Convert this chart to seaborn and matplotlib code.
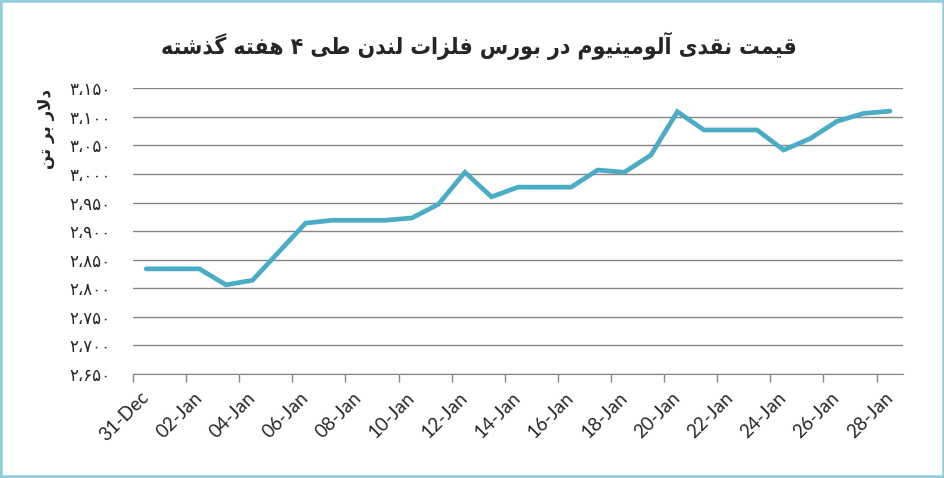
import matplotlib
matplotlib.use("Agg")
import matplotlib.pyplot as plt
from matplotlib.patches import Rectangle
import pandas as pd
import seaborn as sns

# daily LME aluminium cash price (weekends carry the Friday value)
dates = pd.date_range("2021-12-31", "2022-01-28", freq="D")
prices = [2834, 2834, 2834, 2806, 2814, 2864, 2914, 2919, 2919, 2919,
          2923, 2947, 3003, 2960, 2977, 2977, 2977, 3007, 3003, 3033,
          3109, 3077, 3077, 3077, 3042, 3062, 3092, 3106, 3110]
y_ticks = [2650, 2700, 2750, 2800, 2850, 2900, 2950, 3000, 3050, 3100, 3150]

title_text = "قیمت نقدی آلومینیوم در بورس فلزات لندن طی ۴ هفته گذشته"
ylabel_text = "دلار بر تن"

# arabic presentation forms: isolated, final, initial, medial
FORMS = {
    "ا": ("\uFE8D", "\uFE8E", None, None),
    "آ": ("\uFE81", "\uFE82", None, None),
    "ب": ("\uFE8F", "\uFE90", "\uFE91", "\uFE92"),
    "ت": ("\uFE95", "\uFE96", "\uFE97", "\uFE98"),
    "د": ("\uFEA9", "\uFEAA", None, None),
    "ذ": ("\uFEAB", "\uFEAC", None, None),
    "ر": ("\uFEAD", "\uFEAE", None, None),
    "ز": ("\uFEAF", "\uFEB0", None, None),
    "س": ("\uFEB1", "\uFEB2", "\uFEB3", "\uFEB4"),
    "ش": ("\uFEB5", "\uFEB6", "\uFEB7", "\uFEB8"),
    "ط": ("\uFEC1", "\uFEC2", "\uFEC3", "\uFEC4"),
    "ف": ("\uFED1", "\uFED2", "\uFED3", "\uFED4"),
    "ق": ("\uFED5", "\uFED6", "\uFED7", "\uFED8"),
    "ل": ("\uFEDD", "\uFEDE", "\uFEDF", "\uFEE0"),
    "م": ("\uFEE1", "\uFEE2", "\uFEE3", "\uFEE4"),
    "ن": ("\uFEE5", "\uFEE6", "\uFEE7", "\uFEE8"),
    "ه": ("\uFEE9", "\uFEEA", "\uFEEB", "\uFEEC"),
    "و": ("\uFEED", "\uFEEE", None, None),
    "ی": ("\uFBFC", "\uFBFD", "\uFBFE", "\uFBFF"),
    "گ": ("\uFB92", "\uFB93", "\uFB94", "\uFB95"),
}


def shape(text):
    out = []
    i = 0
    n = len(text)
    while i < n:
        c = text[i]
        if c not in FORMS:
            out.append(c)
            i += 1
            continue
        prev = text[i - 1] if i > 0 else ""
        join_prev = prev in FORMS and FORMS[prev][2] is not None
        if c == "ل" and i + 1 < n and text[i + 1] == "ا":
            out.append("\uFEFC" if join_prev else "\uFEFB")
            i += 2
            continue
        nxt = text[i + 1] if i + 1 < n else ""
        iso, fin, ini, med = FORMS[c]
        join_next = ini is not None and nxt in FORMS
        if join_prev and join_next:
            out.append(med)
        elif join_prev:
            out.append(fin)
        elif join_next:
            out.append(ini)
        else:
            out.append(iso)
        i += 1
    return "".join(out)[::-1]


def fa_num(v):
    s = f"{v:,}".replace(",", "،")
    return s.translate(str.maketrans("0123456789", "۰۱۲۳۴۵۶۷۸۹"))


df = pd.DataFrame({"date": dates, "price": prices})

sns.set_style("white")
plt.rcParams["font.family"] = ["DejaVu Sans"]

fig = plt.figure(figsize=(9.45, 4.78), dpi=100)
ax = fig.add_axes([0.1407, 0.2176, 0.815, 0.5977])

sns.lineplot(data=df, x="date", y="price", ax=ax, color="#4BACC6",
             linewidth=3.4, solid_joinstyle="miter")

half = pd.Timedelta(hours=12)
ax.set_xlim(dates[0] - half, dates[-1] + half)
ax.set_ylim(y_ticks[0], y_ticks[-1])
ax.set_yticks(y_ticks)
ax.set_yticklabels([fa_num(v) for v in y_ticks], fontsize=12)
ax.grid(axis="y", color="#868686", linewidth=1)

label_dates = dates[::2]
ax.set_xticks(label_dates)
ax.set_xticklabels([d.strftime("%d-%b") for d in label_dates],
                   rotation=45, ha="right", va="center",
                   rotation_mode="anchor", fontsize=13.5, family="Lato")
ax.set_xticks(label_dates - half, minor=True)
ax.tick_params(axis="x", which="major", length=0, pad=15)
ax.tick_params(axis="x", which="minor", length=6, color="#868686", width=1,
               direction="out", bottom=True)
ax.tick_params(axis="y", length=0, pad=16)

for side in ["left", "right", "top"]:
    ax.spines[side].set_visible(False)
ax.spines["bottom"].set_color("#868686")
ax.set_xlabel("")
ax.set_ylabel("")

fig.text(0.507, 0.905, shape(title_text), ha="center", va="center",
         fontsize=16.5, fontweight="bold", fontstretch="condensed")
fig.text(0.049, 0.73, shape(ylabel_text), ha="center", va="center",
         rotation=90, fontsize=12, fontweight="bold")

fig.patches.append(Rectangle((0, 0), 1, 1, transform=fig.transFigure,
                             fill=False, edgecolor="#92CDDC", linewidth=4))

fig.savefig("out.png", dpi=100)
